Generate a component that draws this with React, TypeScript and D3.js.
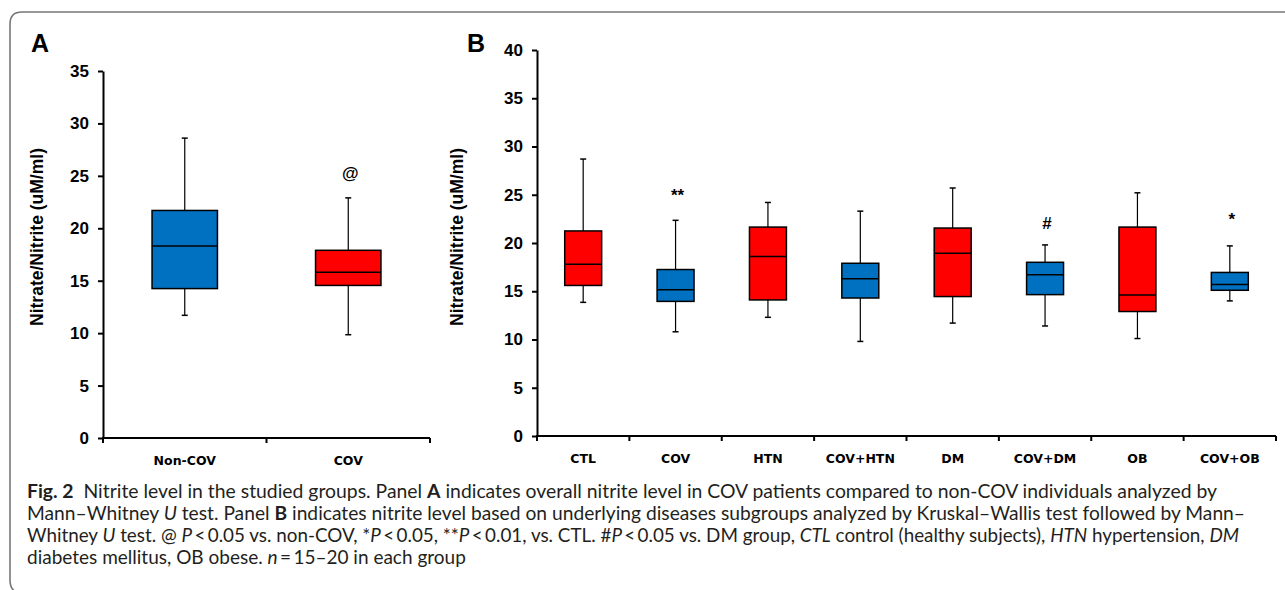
import React, { useEffect, useRef } from 'react';
import * as d3 from 'd3';

// Panel A
const groupsA = ['Non-COV', 'COV'];
const lowA = [11.7, 9.85];
const q1A = [14.25, 14.55];
const medA = [18.3, 15.8];
const q3A = [21.7, 17.9];
const highA = [28.6, 22.9];
const sigA = ['', '@'];
const sigPosA = [0, 24.7];
const colorsA = ['#0070C0', '#FF0000'];
const ticksA = [0, 5, 10, 15, 20, 25, 30, 35];

// Panel B
const groupsB = ['CTL', 'COV', 'HTN', 'COV+HTN', 'DM', 'COV+DM', 'OB', 'COV+OB'];
const lowB = [13.85, 10.8, 12.3, 9.8, 11.7, 11.4, 10.1, 14.0];
const q1B = [15.6, 13.95, 14.1, 14.3, 14.45, 14.65, 12.9, 15.1];
const medB = [17.8, 15.15, 18.6, 16.3, 18.95, 16.7, 14.6, 15.7];
const q3B = [21.25, 17.25, 21.65, 17.9, 21.55, 18.0, 21.65, 16.95];
const highB = [28.7, 22.35, 24.2, 23.3, 25.7, 19.8, 25.2, 19.7];
const sigB = ['', '**', '', '', '', '#', '', '*'];
const sigPosB = [0, 24.4, 0, 0, 0, 21.5, 0, 21.9];
const colorsB = ['#FF0000', '#0070C0', '#FF0000', '#0070C0', '#FF0000', '#0070C0', '#FF0000', '#0070C0'];
const ticksB = [0, 5, 10, 15, 20, 25, 30, 35, 40];

const FONT = 'Liberation Sans, Arial, sans-serif';
const XFONT = 'DejaVu Sans, Verdana, sans-serif';

type Panel = {
  letter: string;
  groups: string[];
  low: number[];
  q1: number[];
  med: number[];
  q3: number[];
  high: number[];
  sig: string[];
  sigPos: number[];
  colors: string[];
  ticks: number[];
  x0: number;
  x1: number;
  yTop: number;
  yBottom: number;
  letterX: number;
  labelX: number;
  sigSize: number;
};

const panels: Panel[] = [
  {
    letter: 'A', groups: groupsA, low: lowA, q1: q1A, med: medA, q3: q3A, high: highA,
    sig: sigA, sigPos: sigPosA, colors: colorsA, ticks: ticksA,
    x0: 103, x1: 430, yTop: 71, yBottom: 438, letterX: 31, labelX: 43, sigSize: 17,
  },
  {
    letter: 'B', groups: groupsB, low: lowB, q1: q1B, med: medB, q3: q3B, high: highB,
    sig: sigB, sigPos: sigPosB, colors: colorsB, ticks: ticksB,
    x0: 537, x1: 1276, yTop: 50, yBottom: 436, letterX: 467, labelX: 463, sigSize: 17,
  },
];

const App = () => {
  const ref = useRef<SVGSVGElement>(null);

  useEffect(() => {
    const svg = d3.select(ref.current);
    svg.selectAll('*').remove();

    // frame
    svg.append('path')
      .attr('d', 'M1290,12 H22 Q10,12 10,24 V580 Q10,589 16,592')
      .attr('fill', 'none')
      .attr('stroke', '#777')
      .attr('stroke-width', 1.6);

    panels.forEach((p) => {
      const g = svg.append('g');
      const maxV = p.ticks[p.ticks.length - 1];
      const y = d3.scaleLinear().domain([0, maxV]).range([p.yBottom, p.yTop]);
      const x = d3.scaleBand<string>().domain(p.groups).range([p.x0, p.x1]).padding(0);
      const bw = x.bandwidth() * 0.4;
      const cx = (d: string) => (x(d) as number) + x.bandwidth() / 2;

      // y axis
      const yAxis = d3.axisLeft(y).tickValues(p.ticks).tickSize(5).tickSizeOuter(0).tickPadding(9);
      const ya = g.append('g').attr('transform', `translate(${p.x0},0)`).call(yAxis);
      ya.select('.domain').attr('stroke', '#000').attr('stroke-width', 2);
      ya.selectAll('.tick line').attr('stroke', '#000').attr('stroke-width', 2);
      ya.selectAll('.tick text')
        .attr('font-family', FONT)
        .attr('font-weight', 'bold')
        .attr('font-size', 17)
        .attr('fill', '#000');

      // x axis line with ticks at category boundaries
      g.append('line')
        .attr('x1', p.x0 - 1).attr('x2', p.x1)
        .attr('y1', p.yBottom).attr('y2', p.yBottom)
        .attr('stroke', '#000').attr('stroke-width', 2);
      const bounds = p.groups.map((d) => x(d) as number).concat([p.x1]);
      g.selectAll('.xt').data(bounds).enter().append('line')
        .attr('x1', (d) => d).attr('x2', (d) => d)
        .attr('y1', p.yBottom).attr('y2', p.yBottom + 5)
        .attr('stroke', '#000').attr('stroke-width', 2);
      g.selectAll('.xl').data(p.groups).enter().append('text')
        .attr('x', (d) => cx(d))
        .attr('y', p.yBottom + 27)
        .attr('text-anchor', 'middle')
        .attr('font-family', XFONT)
        .attr('font-weight', 'bold')
        .attr('font-size', 12.5)
        .text((d) => d);

      // whiskers
      const box = g.selectAll('.box').data(p.groups).enter().append('g');
      box.append('line')
        .attr('x1', (d) => cx(d)).attr('x2', (d) => cx(d))
        .attr('y1', (d, i) => y(p.low[i])).attr('y2', (d, i) => y(p.high[i]))
        .attr('stroke', '#000').attr('stroke-width', 1.2);
      [p.low, p.high].forEach((arr) => {
        box.append('line')
          .attr('x1', (d) => cx(d) - 3).attr('x2', (d) => cx(d) + 3)
          .attr('y1', (d, i) => y(arr[i])).attr('y2', (d, i) => y(arr[i]))
          .attr('stroke', '#000').attr('stroke-width', 1.5);
      });
      // boxes
      box.append('rect')
        .attr('x', (d) => cx(d) - bw / 2)
        .attr('y', (d, i) => y(p.q3[i]))
        .attr('width', bw)
        .attr('height', (d, i) => y(p.q1[i]) - y(p.q3[i]))
        .attr('fill', (d, i) => p.colors[i])
        .attr('stroke', '#000').attr('stroke-width', 1.5);
      box.append('line')
        .attr('x1', (d) => cx(d) - bw / 2).attr('x2', (d) => cx(d) + bw / 2)
        .attr('y1', (d, i) => y(p.med[i])).attr('y2', (d, i) => y(p.med[i]))
        .attr('stroke', '#000').attr('stroke-width', 1.5);
      box.filter((d, i) => p.sig[i] !== '').append('text')
        .attr('x', (d) => cx(d) + 2)
        .attr('y', (d) => y(p.sigPos[p.groups.indexOf(d)]))
        .attr('text-anchor', 'middle')
        .attr('font-family', FONT)
        .attr('font-weight', 'bold')
        .attr('font-size', p.sigSize)
        .text((d) => p.sig[p.groups.indexOf(d)]);

      // y label
      g.append('text')
        .attr('transform', `translate(${p.labelX},237) rotate(-90)`)
        .attr('text-anchor', 'middle')
        .attr('font-family', FONT)
        .attr('font-weight', 'bold')
        .attr('font-size', 17.5)
        .text('Nitrate/Nitrite (uM/ml)');

      // panel letter
      g.append('text')
        .attr('x', p.letterX).attr('y', 52)
        .attr('font-family', FONT)
        .attr('font-weight', 'bold')
        .attr('font-size', 25)
        .text(p.letter);
    });

    // caption
    type Seg = [string, string?];
    const lines: { segs: Seg[]; len: number | null }[] = [
      {
        segs: [['Fig. 2', 'b'], ['  Nitrite level in the studied groups. Panel '], ['A', 'b'],
          [' indicates overall nitrite level in COV patients compared to non-COV individuals analyzed by']],
        len: 1190,
      },
      {
        segs: [['Mann–Whitney '], ['U', 'i'], [' test. Panel '], ['B', 'b'],
          [' indicates nitrite level based on underlying diseases subgroups analyzed by Kruskal–Wallis test followed by Mann–']],
        len: 1218,
      },
      {
        segs: [['Whitney '], ['U', 'i'], [' test. @ '], ['P', 'i'], ['\u2009<\u20090.05 vs. non-COV, *'], ['P', 'i'],
          ['\u2009<\u20090.05, **'], ['P', 'i'], ['\u2009<\u20090.01, vs. CTL. #'], ['P', 'i'],
          ['\u2009<\u20090.05 vs. DM group, '], ['CTL', 'i'], [' control (healthy subjects), '], ['HTN', 'i'],
          [' hypertension, '], ['DM', 'i']],
        len: 1212,
      },
      {
        segs: [['diabetes mellitus, OB obese. '], ['n', 'i'], ['\u2009=\u200915–20 in each group']],
        len: null,
      },
    ];
    lines.forEach((ln, li) => {
      const t = svg.append('text')
        .attr('x', 27)
        .attr('y', 498 + li * 22)
        .attr('font-family', 'Lato, sans-serif')
        .attr('font-size', 19)
        .attr('fill', '#231f20')
        .style('white-space', 'pre');
      if (ln.len) t.attr('textLength', ln.len).attr('lengthAdjust', 'spacingAndGlyphs');
      ln.segs.forEach(([s, st]) => {
        const ts = t.append('tspan').text(s);
        if (st === 'b') ts.attr('font-weight', 'bold');
        if (st === 'i') ts.attr('font-style', 'italic');
      });
    });
  }, []);

  return (
    <svg
      ref={ref}
      width={1285}
      height={590}
      style={{ position: 'absolute', left: 0, top: 0, background: '#fff' }}
    />
  );
};

export default App;
